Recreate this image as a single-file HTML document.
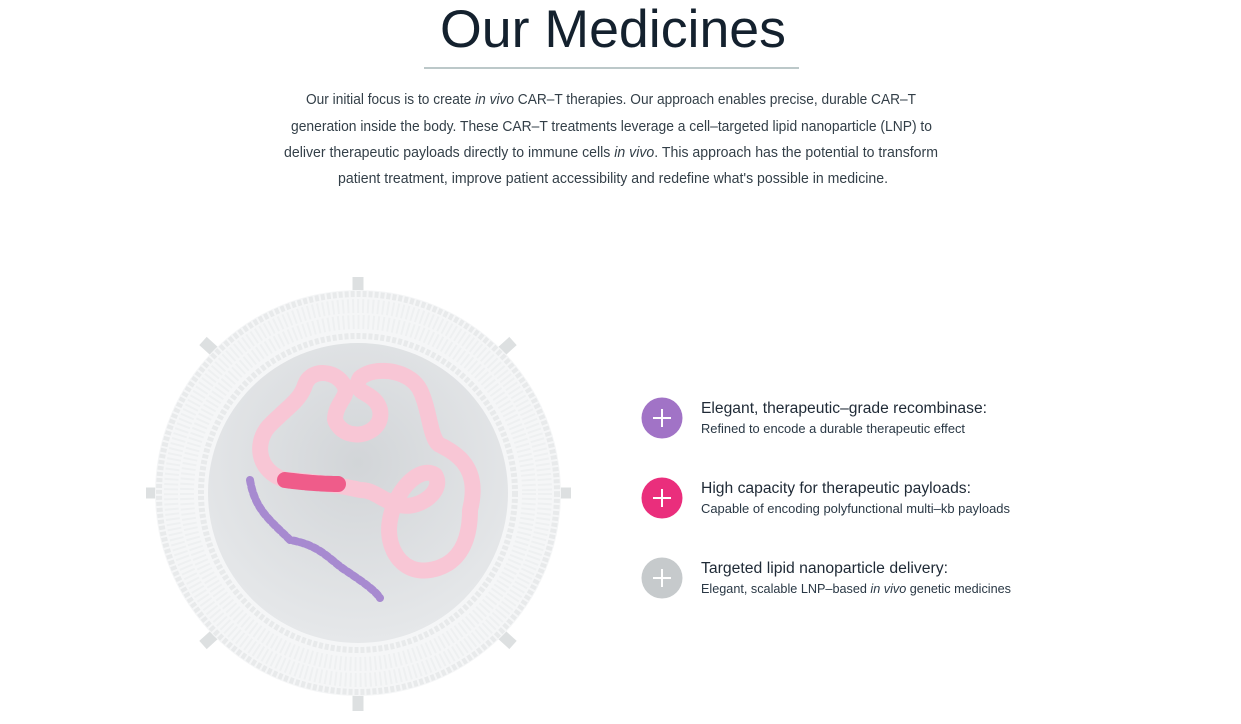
<!DOCTYPE html>
<html><head><meta charset="utf-8"><style>
html,body{margin:0;padding:0;background:#fff;width:1241px;height:724px;overflow:hidden}
svg{display:block}
text{font-family:"Liberation Sans",sans-serif}
</style></head><body>
<svg width="1241" height="724" viewBox="0 0 1241 724" xmlns="http://www.w3.org/2000/svg">
<defs>
<radialGradient id="lum" cx="0.5" cy="0.4" r="0.6">
<stop offset="0" stop-color="#d2d5d8"/><stop offset="1" stop-color="#e6e8ea"/>
</radialGradient>
</defs>
<text x="613" y="47" font-size="53" fill="#14212e" text-anchor="middle" textLength="346" lengthAdjust="spacingAndGlyphs">Our Medicines</text>
<rect x="424" y="67" width="375" height="2" fill="#bcc8c9"/>
<g font-size="14.5" fill="#333f48">
<text x="306" y="104" textLength="610" lengthAdjust="spacingAndGlyphs">Our initial focus is to create <tspan font-style="italic">in vivo</tspan> CAR–T therapies. Our approach enables precise, durable CAR–T</text>
<text x="291" y="131" textLength="641" lengthAdjust="spacingAndGlyphs">generation inside the body. These CAR–T treatments leverage a cell–targeted lipid nanoparticle (LNP) to</text>
<text x="284" y="157" textLength="654" lengthAdjust="spacingAndGlyphs">deliver therapeutic payloads directly to immune cells <tspan font-style="italic">in vivo</tspan>. This approach has the potential to transform</text>
<text x="338" y="183" textLength="550" lengthAdjust="spacingAndGlyphs">patient treatment, improve patient accessibility and redefine what's possible in medicine.</text>
</g>
<!-- LNP -->
<g stroke="#dde0e1" stroke-width="11" stroke-linecap="butt">
<line x1="358" y1="277" x2="358" y2="305"/><line x1="358" y1="682" x2="358" y2="711"/>
<line x1="146" y1="493" x2="175" y2="493"/><line x1="542" y1="493" x2="571" y2="493"/>
<line x1="203" y1="341" x2="225" y2="361"/><line x1="513" y1="341" x2="491" y2="361"/>
<line x1="203" y1="645" x2="225" y2="625"/><line x1="513" y1="645" x2="491" y2="625"/>
</g>
<circle cx="358" cy="493" r="203" fill="#f5f6f7"/>
<g fill="none">
<circle cx="358" cy="493" r="199" stroke="#e8eaeb" stroke-width="6" stroke-dasharray="4 2"/>
<circle cx="358" cy="493" r="187" stroke="#eef0f1" stroke-width="14" stroke-dasharray="2 3"/>
<circle cx="358" cy="493" r="171" stroke="#eef0f1" stroke-width="14" stroke-dasharray="2 3"/>
<circle cx="358" cy="493" r="157" stroke="#e8eaeb" stroke-width="6" stroke-dasharray="4 2"/>
</g>
<circle cx="358" cy="493" r="150" fill="url(#lum)"/>
<!-- DNA -->
<g fill="none" stroke-linecap="round" stroke-linejoin="round">
<path d="M285 480 C255 470 255 440 270 425 C290 405 300 400 305 385 C310 370 330 370 340 380 C355 395 335 400 335 420 C345 445 385 435 380 410 C375 390 350 395 360 378 C375 365 410 370 420 390 C430 410 430 440 440 445 C460 455 480 470 470 510 C470 540 460 565 430 570 C400 575 385 545 390 520 C395 490 420 465 435 475 C445 490 420 510 400 505 C380 500 375 490 360 490 C340 485 300 480 285 480 Z" stroke="#f8c6d5" stroke-width="16" stroke-dasharray="5 2"/>
<path d="M285 480 C300 482 320 484 338 484" stroke="#ef5c8a" stroke-width="16" stroke-dasharray="5 2"/>
<path d="M250 480 C255 510 270 520 290 540 C320 545 330 560 345 570 C360 580 375 590 380 598" stroke="#a78ad0" stroke-width="8" stroke-dasharray="4 3"/>
</g>
<!-- Items -->
<circle cx="662" cy="418" r="20.5" fill="#a173c6"/>
<circle cx="662" cy="498" r="20.5" fill="#ea2e7c"/>
<circle cx="662" cy="578" r="20.5" fill="#c6cacc"/>
<g stroke="#fff" stroke-width="2">
<line x1="653" y1="418" x2="671" y2="418"/><line x1="662" y1="409" x2="662" y2="427"/>
<line x1="653" y1="498" x2="671" y2="498"/><line x1="662" y1="489" x2="662" y2="507"/>
<line x1="653" y1="578" x2="671" y2="578"/><line x1="662" y1="569" x2="662" y2="587"/>
</g>
<g fill="#1f2a36">
<text x="701" y="413" font-size="15.5" textLength="286" lengthAdjust="spacingAndGlyphs">Elegant, therapeutic–grade recombinase:</text>
<text x="701" y="433" font-size="12.5" textLength="264" lengthAdjust="spacingAndGlyphs" fill="#2a3845">Refined to encode a durable therapeutic effect</text>
<text x="701" y="493" font-size="15.5" textLength="270" lengthAdjust="spacingAndGlyphs">High capacity for therapeutic payloads:</text>
<text x="701" y="513" font-size="12.5" textLength="309" lengthAdjust="spacingAndGlyphs" fill="#2a3845">Capable of encoding polyfunctional multi–kb payloads</text>
<text x="701" y="573" font-size="15.5" textLength="247" lengthAdjust="spacingAndGlyphs">Targeted lipid nanoparticle delivery:</text>
<text x="701" y="593" font-size="12.5" textLength="310" lengthAdjust="spacingAndGlyphs" fill="#2a3845">Elegant, scalable LNP–based <tspan font-style="italic">in vivo</tspan> genetic medicines</text>
</g>
</svg>
</body></html>
